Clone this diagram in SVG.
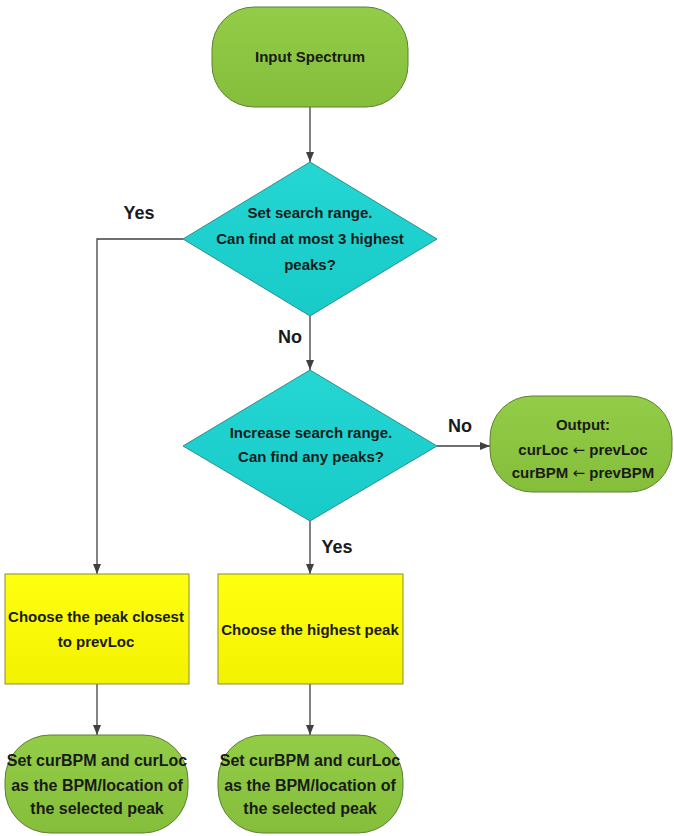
<svg xmlns="http://www.w3.org/2000/svg" width="674" height="836" viewBox="0 0 674 836">
<defs>
<linearGradient id="gGreen" x1="0" y1="0" x2="0" y2="1">
<stop offset="0" stop-color="#93CD48"/>
<stop offset="1" stop-color="#84BE3A"/>
</linearGradient>
<linearGradient id="gCyan" x1="0" y1="0" x2="0" y2="1">
<stop offset="0" stop-color="#25D6D3"/>
<stop offset="1" stop-color="#17CBC8"/>
</linearGradient>
<linearGradient id="gYellow" x1="0" y1="0" x2="0" y2="1">
<stop offset="0" stop-color="#FFFF10"/>
<stop offset="1" stop-color="#F2F200"/>
</linearGradient>
<marker id="arrow" viewBox="0 0 10 10" refX="10" refY="5" markerWidth="10" markerHeight="10" markerUnits="userSpaceOnUse" orient="auto">
<path d="M0,1 L10,5 L0,9 Z" fill="#404040"/>
</marker>
</defs>
<style>
.term{fill:url(#gGreen);stroke:#5E7F34;stroke-width:1}
.dec{fill:url(#gCyan);stroke:#2E8E8C;stroke-width:1}
.proc{fill:url(#gYellow);stroke:#8A8A40;stroke-width:1}
.t{font-family:"Liberation Sans",Arial,sans-serif;font-weight:bold;fill:#1A1A1A;text-anchor:middle}
.ar{font-family:"DejaVu Sans",sans-serif;font-weight:normal}
.s15{font-size:15px}
.s16{font-size:16px}
.lbl{font-size:18px}
.conn{fill:none;stroke:#404040;stroke-width:1.3;marker-end:url(#arrow)}
</style>
<g id="connectors">
<path class="conn" d="M310,107 L310,162"/>
<path class="conn" d="M183,239 L97,239 L97,574"/>
<path class="conn" d="M310,316 L310,370"/>
<path class="conn" d="M437,446 L490,446"/>
<path class="conn" d="M310,521 L310,574"/>
<path class="conn" d="M97,684 L97,735"/>
<path class="conn" d="M310,684 L310,735"/>
<text class="t lbl" x="139" y="219">Yes</text>
<text class="t lbl" x="290" y="343">No</text>
<text class="t lbl" x="460" y="432">No</text>
<text class="t lbl" x="337" y="553">Yes</text>
</g>
<g id="input">
<rect class="term" x="212" y="7" width="196" height="100" rx="42" ry="42"/>
<text class="t s15" x="310" y="62">Input Spectrum</text>
</g>
<g id="decision1">
<polygon class="dec" points="310,162 437,239 310,316 183,239"/>
<text class="t s15" x="310" y="218">Set search range.</text>
<text class="t s15" x="310" y="244">Can find at most 3 highest</text>
<text class="t s15" x="310" y="270">peaks?</text>
</g>
<g id="decision2">
<polygon class="dec" points="310,370 437,446 310,521 183,446"/>
<text class="t s15" x="311" y="438">Increase search range.</text>
<text class="t s15" x="311" y="462">Can find any peaks?</text>
</g>
<g id="output">
<rect class="term" x="490" y="396" width="182" height="96" rx="42" ry="42"/>
<text class="t s15" x="583" y="430">Output:</text>
<text class="t s15" x="583" y="455">curLoc <tspan class="ar">←</tspan> prevLoc</text>
<text class="t s15" x="583" y="478">curBPM <tspan class="ar">←</tspan> prevBPM</text>
</g>
<g id="closest">
<rect class="proc" x="5" y="574" width="184" height="110"/>
<text class="t s15" x="96" y="622">Choose the peak closest</text>
<text class="t s15" x="96" y="647">to prevLoc</text>
</g>
<g id="highest">
<rect class="proc" x="218" y="574" width="185" height="110"/>
<text class="t s15" x="310" y="635">Choose the highest peak</text>
</g>
<g id="set1">
<rect class="term" x="5" y="735" width="183" height="98" rx="45" ry="45"/>
<text class="t s16" x="97" y="766">Set curBPM and curLoc</text>
<text class="t s16" x="97" y="791">as the BPM/location of</text>
<text class="t s16" x="97" y="814">the selected peak</text>
</g>
<g id="set2">
<rect class="term" x="218" y="735" width="185" height="98" rx="45" ry="45"/>
<text class="t s16" x="310" y="766">Set curBPM and curLoc</text>
<text class="t s16" x="310" y="791">as the BPM/location of</text>
<text class="t s16" x="310" y="814">the selected peak</text>
</g>
</svg>
